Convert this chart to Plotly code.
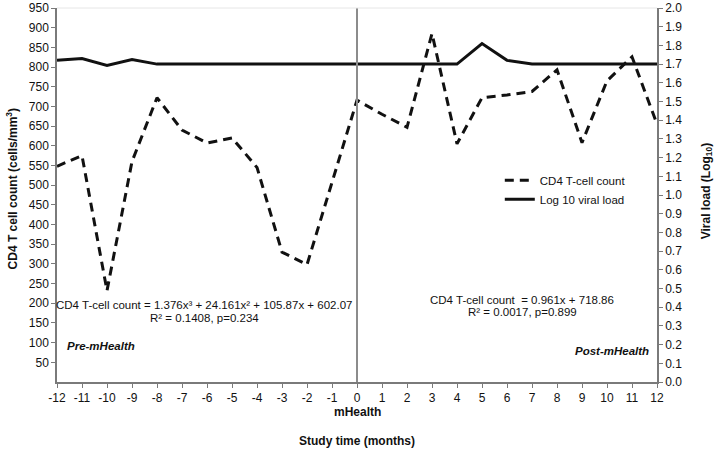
import plotly.graph_objects as go

months = list(range(-12, 13))
cd4_count = [548, 575, 232, 560, 722, 640, 607, 620, 545, 330, 298, 510, 716,
             680, 647, 885, 605, 722, 729, 738, 793, 608, 765, 826, 655]
log10_viral_load = [1.72, 1.73, 1.693, 1.725, 1.70, 1.70, 1.70, 1.70, 1.70, 1.70, 1.70, 1.70, 1.70,
                    1.70, 1.70, 1.70, 1.70, 1.81, 1.72, 1.70, 1.70, 1.70, 1.70, 1.70, 1.70]
left_ticks = list(range(50, 951, 50))
right_ticks = [round(i * 0.1, 1) for i in range(0, 21)]

FONT = "Liberation Sans, Arial, sans-serif"
INK = "#111111"
AXIS = "#7a7a7a"
TS = 11.5

fig = go.Figure()
fig.add_trace(go.Scatter(
    x=months, y=cd4_count, mode="lines", name="CD4 T-cell count",
    line=dict(color=INK, width=3, dash="9px,6px"), yaxis="y"))
fig.add_trace(go.Scatter(
    x=months, y=log10_viral_load, mode="lines", name="Log 10 viral load",
    line=dict(color=INK, width=3), yaxis="y2"))

fig.update_layout(
    width=718, height=453,
    margin=dict(l=57, r=61, t=8, b=71, autoexpand=False),
    paper_bgcolor="white", plot_bgcolor="white",
    font=dict(family=FONT, size=TS, color=INK),
    showlegend=True,
    legend=dict(x=0.738, y=0.578, xanchor="left", yanchor="top",
                bgcolor="rgba(0,0,0,0)", font=dict(size=TS, color=INK),
                itemwidth=30, tracegroupgap=0),
    xaxis=dict(range=[-12, 12], tickmode="array", tickvals=months,
               ticktext=[str(m) for m in months], automargin=False,
               showgrid=False, zeroline=False, showline=True, linecolor=AXIS,
               linewidth=1.5, ticks="outside", ticklen=4, tickcolor=AXIS,
               tickfont=dict(size=12, color=INK)),
    yaxis=dict(range=[0, 950], tickmode="array", tickvals=left_ticks, automargin=False,
               showgrid=False, zeroline=False, showline=True, linecolor=AXIS,
               linewidth=1.5, ticks="outside", ticklen=4, tickcolor=AXIS,
               tickfont=dict(size=12, color=INK)),
    yaxis2=dict(range=[0, 2.0], overlaying="y", side="right", tickmode="array",
                tickvals=right_ticks, ticktext=[f"{v:.1f}" for v in right_ticks],
                automargin=False,
                showgrid=False, zeroline=False, showline=True, linecolor=AXIS,
                linewidth=1.5, ticks="outside", ticklen=4, tickcolor=AXIS,
                tickfont=dict(size=12, color=INK)),
)

# vertical separator at month 0 and faint top border
fig.add_shape(type="line", xref="x", yref="paper", x0=0, x1=0, y0=0, y1=1,
              line=dict(color="#8c8c8c", width=2))
fig.add_shape(type="line", xref="paper", yref="paper", x0=0, x1=1, y0=1, y1=1,
              line=dict(color="#e6e6e6", width=1))

ann = []
ann.append(dict(x=-6.12, y=196, xref="x", yref="y",
                text="CD4 T-cell count = 1.376x³ + 24.161x² + 105.87x + 602.07",
                showarrow=False, font=dict(size=TS, color=INK)))
ann.append(dict(x=-6.12, y=163, xref="x", yref="y",
                text="R² = 0.1408, p=0.234", showarrow=False, font=dict(size=TS, color=INK)))
ann.append(dict(x=-11.7, y=91, xref="x", yref="y", xanchor="left",
                text="<b><i>Pre-mHealth</i></b>", showarrow=False, font=dict(size=TS, color=INK)))
ann.append(dict(x=6.6, y=208, xref="x", yref="y",
                text="CD4 T-cell count  = 0.961x + 718.86",
                showarrow=False, font=dict(size=TS, color=INK)))
ann.append(dict(x=6.6, y=178, xref="x", yref="y",
                text="R² = 0.0017, p=0.899", showarrow=False, font=dict(size=TS, color=INK)))
ann.append(dict(x=11.76, y=80, xref="x", yref="y", xanchor="right",
                text="<b><i>Post-mHealth</i></b>", showarrow=False, font=dict(size=TS, color=INK)))
# axis titles
ann.append(dict(x=0, y=0, xref="x", yref="paper", yanchor="middle", yshift=-30,
                text="<b>mHealth</b>", showarrow=False, font=dict(size=12, color=INK)))
ann.append(dict(x=0.5, y=0, xref="paper", yref="paper", yanchor="middle", yshift=-59,
                text="<b>Study time (months)</b>", showarrow=False, font=dict(size=12, color=INK)))
ann.append(dict(x=0, y=0.515, xref="paper", yref="paper", xshift=-55, textangle=-90,
                text="<b>CD4 T cell count (cells/mm<sup>3</sup>)</b>", showarrow=False,
                font=dict(size=12, color=INK)))
ann.append(dict(x=1, y=0.51, xref="paper", yref="paper", xshift=60, textangle=-90,
                text="<b>Viral load (Log<sub>10</sub>)</b>", showarrow=False,
                font=dict(size=12, color=INK)))
fig.update_layout(annotations=ann)

fig.write_html("out.html", config={"displayModeBar": False},
               post_script="document.body.style.margin='0';document.body.style.padding='0';")
